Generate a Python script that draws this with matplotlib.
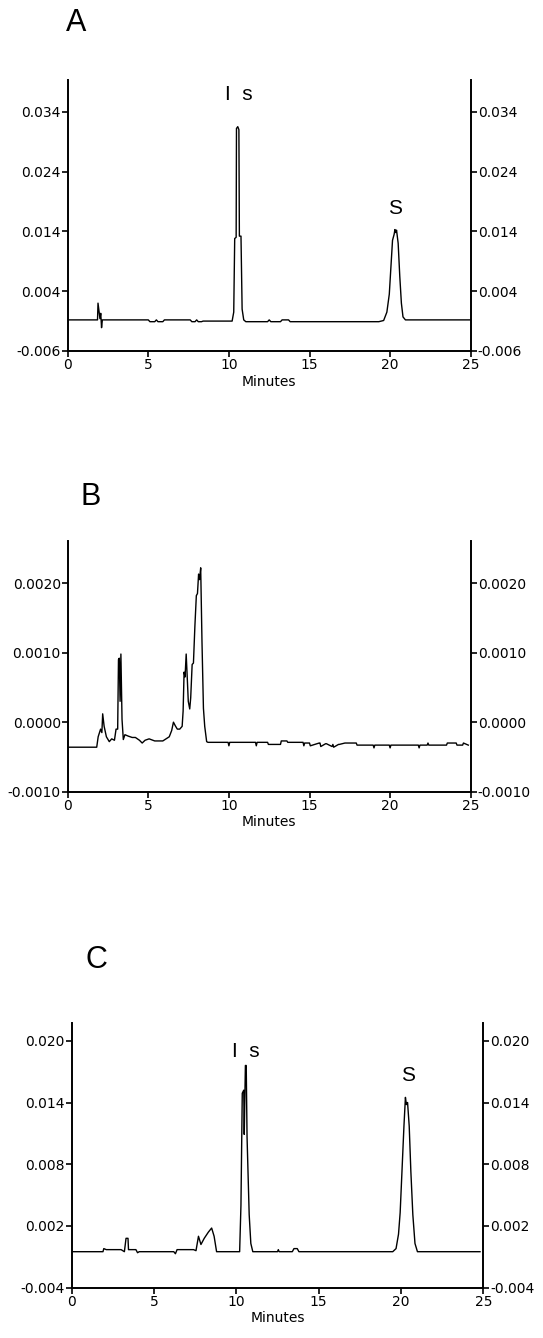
import numpy as np
import matplotlib.pyplot as plt
from matplotlib.ticker import FixedLocator, FixedFormatter

# ---- panel A
t_a = [0, 1.85, 1.88, 1.95, 2.0, 2.05, 2.1, 2.15, 5.0, 5.1, 5.4, 5.5, 5.6, 5.9, 6.0,
       7.6, 7.7, 7.9, 8.0, 8.1, 8.3, 8.4, 10.2, 10.3, 10.36, 10.45, 10.47, 10.55, 10.62,
       10.65, 10.75, 10.82, 10.92, 11.05, 12.4, 12.5, 12.6, 13.2, 13.3, 13.7, 13.8,
       19.3, 19.6, 19.8, 19.95, 20.05, 20.15, 20.25, 20.3, 20.35, 20.4, 20.5, 20.6,
       20.7, 20.8, 20.95, 25]
y_a = [-0.0008, -0.0008, 0.0020, 0.0005, -0.0006, 0.0003, -0.0021, -0.0008, -0.0008,
       -0.0011, -0.0011, -0.0008, -0.0011, -0.0011, -0.0008,
       -0.0008, -0.0011, -0.0011, -0.0008, -0.0011, -0.0011, -0.0010, -0.0010, 0.0005,
       0.0128, 0.0130, 0.0312, 0.0315, 0.0310, 0.0132, 0.0132, 0.0010, -0.0008, -0.0011,
       -0.0011, -0.0008, -0.0011, -0.0011, -0.0008, -0.0008, -0.0011,
       -0.0011, -0.0009, 0.0005, 0.0035, 0.0080, 0.0125, 0.0135, 0.0143, 0.0138, 0.0142,
       0.0120, 0.0065, 0.0020, -0.0003, -0.0008, -0.0008]
ticks_a = [-0.006, 0.004, 0.014, 0.024, 0.034]
labels_a = ["-0.006", "0.004", "0.014", "0.024", "0.034"]

# ---- panel B
t_b = [0, 1.8, 1.89, 2.04, 2.12, 2.17, 2.26, 2.4, 2.58, 2.73, 2.9, 3.0, 3.1, 3.15, 3.2,
       3.25, 3.3, 3.37, 3.45, 3.55, 3.75, 4.0, 4.2, 4.45, 4.62, 4.8, 5.05, 5.4, 5.9, 6.3,
       6.45, 6.56, 6.67, 6.8, 6.95, 7.1, 7.16, 7.22, 7.28, 7.35, 7.42, 7.48, 7.57, 7.63,
       7.72, 7.8, 7.89, 7.98, 8.05, 8.12, 8.18, 8.25, 8.33, 8.42, 8.5, 8.62, 8.7,
       9.95, 10.0, 10.05, 11.65, 11.7, 11.75, 12.4, 12.45, 13.2, 13.25, 13.6, 13.65,
       14.6, 14.65, 14.7, 15.0, 15.05, 15.6, 15.65, 15.7, 16.0, 16.05, 16.4, 16.45,
       16.5, 16.8, 16.85, 17.2, 17.25, 17.9, 17.95, 18.95, 19.0, 19.05, 19.95, 20.0,
       20.05, 21.75, 21.8, 21.85, 22.3, 22.35, 22.4, 23.5, 23.55, 24.1, 24.15, 24.5,
       24.55, 24.85]
y_b = [-0.00036, -0.00036, -0.00021, -0.00010, -0.00015, 0.00012, -0.00006, -0.00021,
       -0.00028, -0.00024, -0.00026, -0.00010, -0.00010, 0.00090, 0.00092, 0.00030,
       0.00098, 0.00004, -0.00025, -0.00018, -0.00020, -0.00022, -0.00022, -0.00026,
       -0.00030, -0.00026, -0.00024, -0.00027, -0.00027, -0.00021, -0.00012, 0.00000,
       -0.00005, -0.00010, -0.00010, -0.00006, 0.00016, 0.00072, 0.00065, 0.00098,
       0.00062, 0.00030, 0.00019, 0.00035, 0.00083, 0.00085, 0.00138, 0.00182, 0.00185,
       0.00213, 0.00205, 0.00222, 0.00116, 0.00020, -0.00006, -0.00028, -0.00029,
       -0.00029, -0.00034, -0.00029, -0.00029, -0.00034, -0.00029, -0.00029, -0.00032,
       -0.00032, -0.00027, -0.00027, -0.00029, -0.00029, -0.00034, -0.00030, -0.00030,
       -0.00034, -0.00030, -0.00030, -0.00035, -0.00031, -0.00031, -0.00035, -0.00032,
       -0.00036, -0.00032, -0.00032, -0.00030, -0.00030, -0.00030, -0.00033, -0.00033,
       -0.00037, -0.00033, -0.00033, -0.00037, -0.00033, -0.00033, -0.00037, -0.00033,
       -0.00033, -0.00030, -0.00033, -0.00033, -0.00030, -0.00030, -0.00033, -0.00033,
       -0.00030, -0.00033]
ticks_b = [-0.0010, 0.0000, 0.0010, 0.0020]
labels_b = ["-0.0010", "0.0000", "0.0010", "0.0020"]

# ---- panel C
t_c = [0, 1.9, 1.95, 2.1, 3.0, 3.2, 3.3, 3.42, 3.45, 3.9, 4.0, 4.1, 6.2, 6.3, 6.4, 7.4,
       7.55, 7.7, 7.85, 8.05, 8.3, 8.5, 8.65, 8.8, 10.2, 10.28, 10.36, 10.45, 10.48,
       10.55, 10.6, 10.65, 10.78, 10.88, 11.0, 12.5, 12.55, 12.6, 13.4, 13.5, 13.7,
       13.8, 19.5, 19.7, 19.85, 19.95, 20.06, 20.18, 20.27, 20.33, 20.4, 20.5, 20.6,
       20.72, 20.85, 21.0, 24.8]
y_c = [-0.0005, -0.0005, -0.0002, -0.0003, -0.0003, -0.0005, 0.0008, 0.0008, -0.0003,
       -0.0003, -0.0006, -0.0005, -0.0005, -0.0007, -0.0003, -0.0003,
       -0.0004, 0.0010, 0.0002, 0.0008, 0.0014, 0.0018, 0.0010, -0.0005, -0.0005, 0.0040,
       0.0149, 0.0152, 0.0109, 0.0176, 0.0176, 0.0107, 0.0031, 0.0003, -0.0005, -0.0005,
       -0.0003, -0.0005, -0.0005, -0.0002, -0.0002, -0.0005, -0.0005, -0.0002, 0.0012,
       0.0033, 0.0073, 0.0117, 0.0145, 0.0138, 0.0140, 0.0117, 0.0073, 0.0031, 0.0003,
       -0.0005, -0.0005]
ticks_c = [-0.004, 0.002, 0.008, 0.014, 0.020]
labels_c = ["-0.004", "0.002", "0.008", "0.014", "0.020"]

x_ticks = [0, 5, 10, 15, 20, 25]

W, H = 543, 1338
fig = plt.figure(figsize=(W / 100, H / 100), dpi=100)


def panel(rect, t, y, ticks, labels, ylim):
    ax = fig.add_axes(rect)
    ax.plot(t, y, color='black', lw=1.0)
    ax.set_xlim(0, 25)
    ax.set_ylim(*ylim)
    ax.spines['top'].set_visible(False)
    for s in ['left', 'right', 'bottom']:
        ax.spines[s].set_linewidth(1.4)
    ax.xaxis.set_major_locator(FixedLocator(x_ticks))
    ax.yaxis.set_major_locator(FixedLocator(ticks))
    ax.yaxis.set_major_formatter(FixedFormatter(labels))
    ax.tick_params(axis='y', left=True, right=True, labelleft=True, labelright=True,
                   direction='out', length=4, width=1.2, pad=1, labelsize=10)
    ax.tick_params(axis='x', direction='out', length=4, width=1.2, pad=1, labelsize=10)
    ax.set_xlabel('Minutes', fontsize=10, labelpad=2)
    return ax


def frac(left, right, top, bottom):
    return [left / W, 1 - bottom / H, (right - left) / W, (bottom - top) / H]


ax_a = panel(frac(67.7, 470.7, 80, 351), t_a, y_a, ticks_a, labels_a, (-0.006, 0.0393))
ax_a.text(10.6, 0.0368, 'I  s', ha='center', va='center', fontsize=15,
          family='Liberation Sans')
ax_a.text(20.3, 0.0178, 'S', ha='center', va='center', fontsize=15,
          family='Liberation Sans')

ax_b = panel(frac(67.7, 470.7, 540.7, 791.7), t_b, y_b, ticks_b, labels_b, (-0.0010, 0.00261))

ax_c = panel(frac(71.7, 483.3, 1023.3, 1287.7), t_c, y_c, ticks_c, labels_c, (-0.004, 0.0217))
ax_c.text(10.6, 0.0190, 'I  s', ha='center', va='center', fontsize=15,
          family='Liberation Sans')
ax_c.text(20.4, 0.0166, 'S', ha='center', va='center', fontsize=15,
          family='Liberation Sans')

for lab, x, y in [('A', 76, 23), ('B', 91, 497), ('C', 96, 960)]:
    fig.text(x / W, 1 - y / H, lab, ha='center', va='center', fontsize=22,
             family='Liberation Sans')

fig.savefig('out.png', dpi=100)
